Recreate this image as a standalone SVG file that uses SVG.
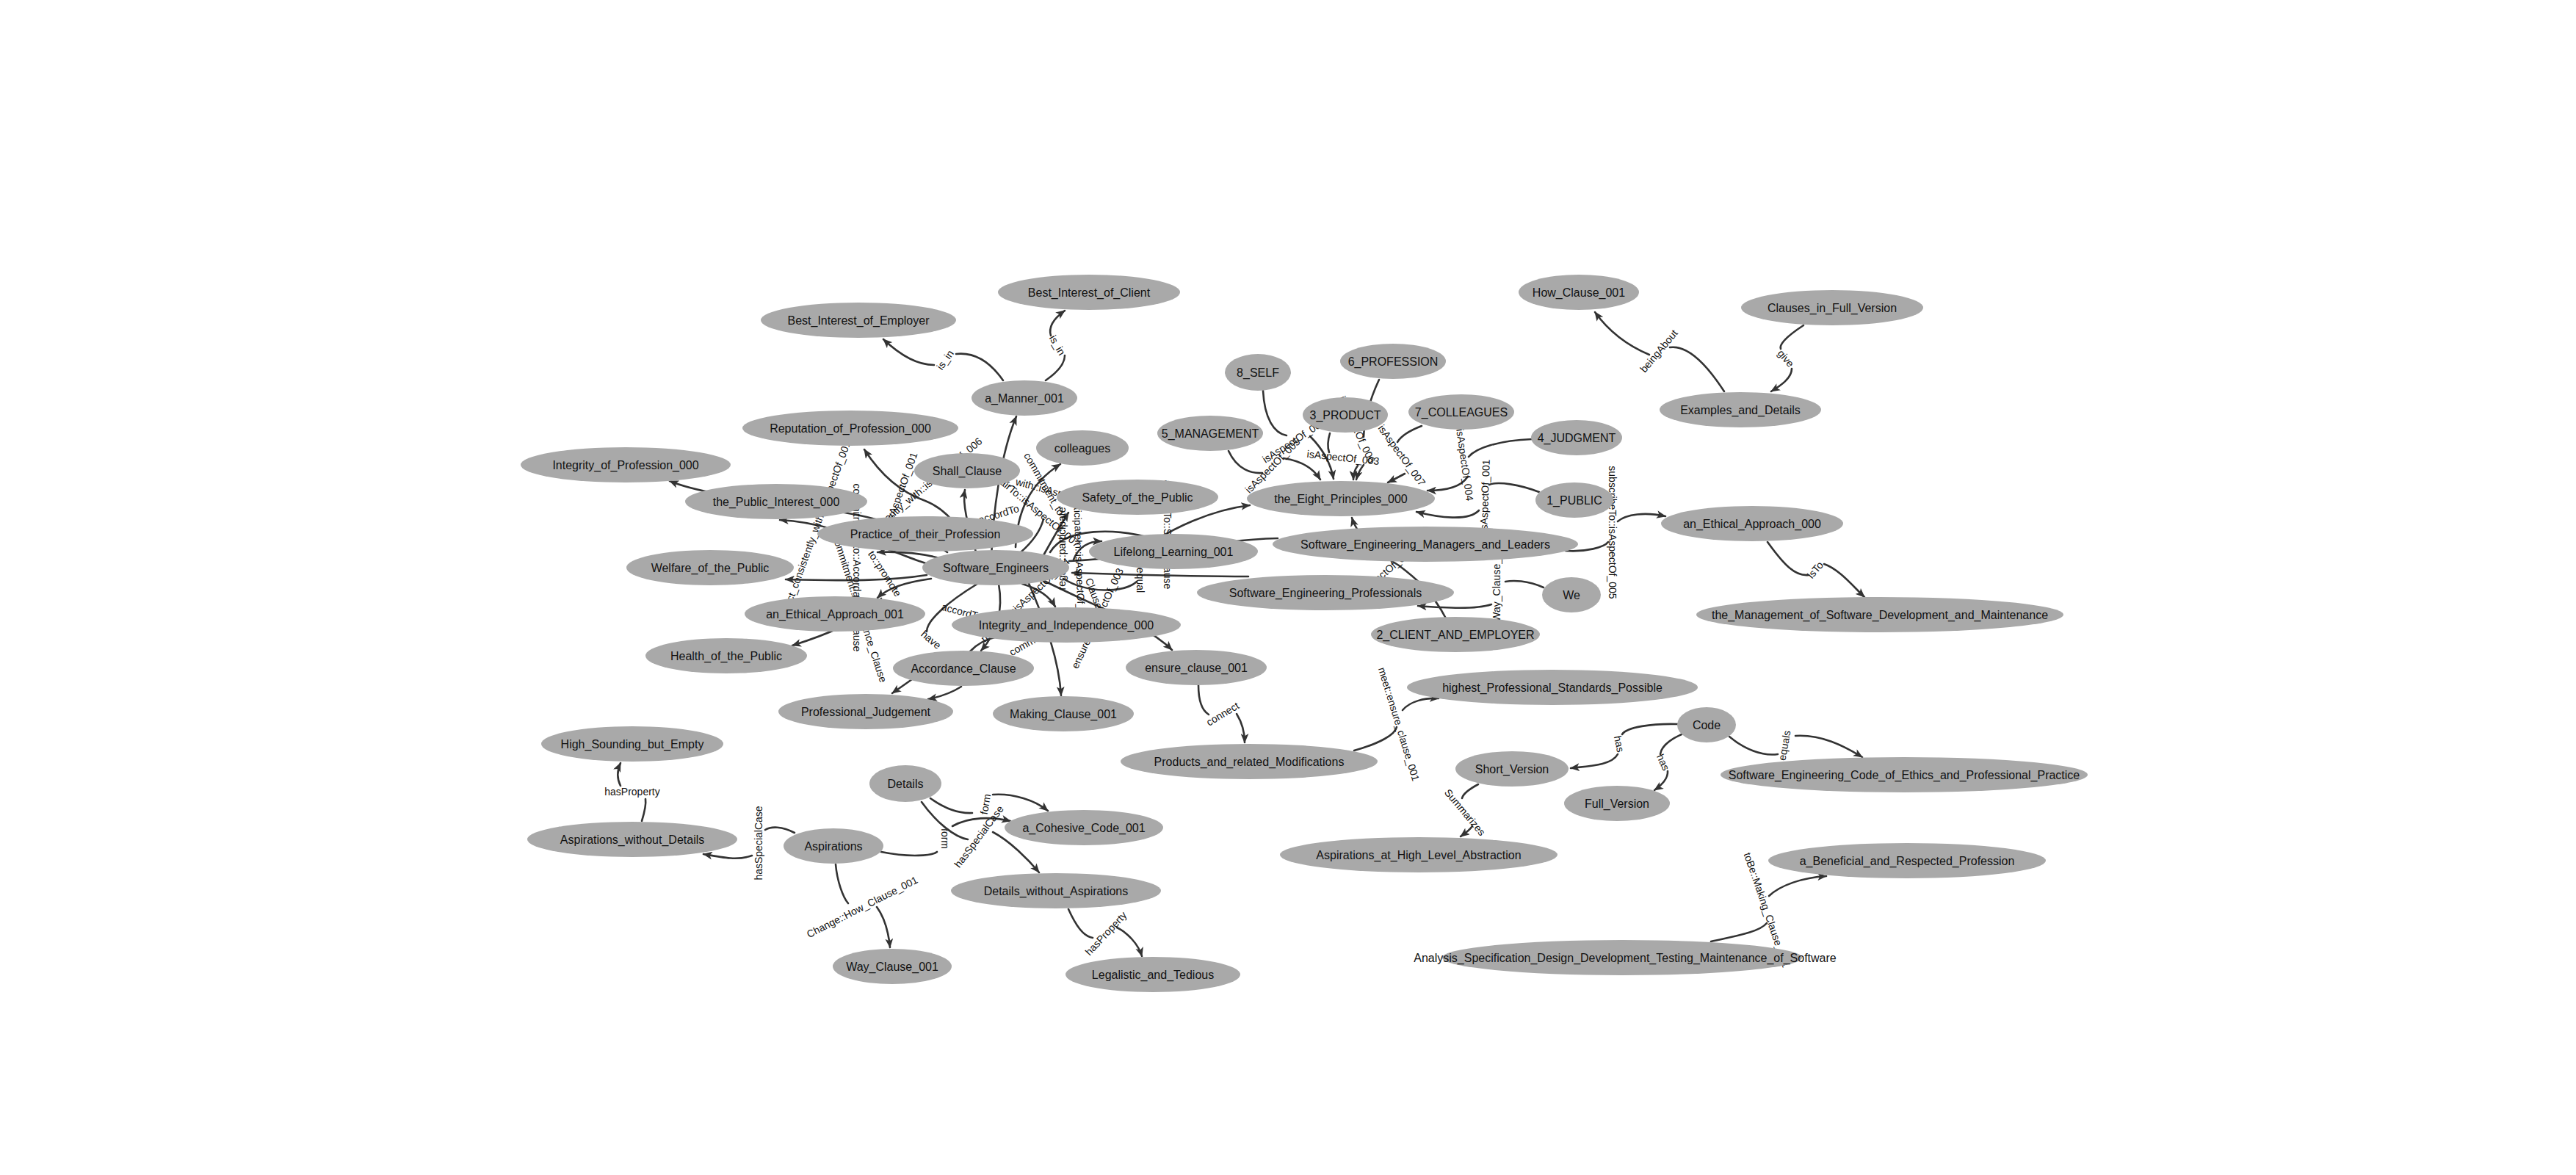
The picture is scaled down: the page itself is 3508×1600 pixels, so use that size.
<svg xmlns="http://www.w3.org/2000/svg" width="3508" height="1600" viewBox="0 0 3508 1600">
<style>
.node ellipse{fill:#a9a9a9;stroke:none}
.node text{font-family:"Liberation Sans",Arial,sans-serif;font-size:16px;fill:#111;text-anchor:middle;dominant-baseline:central}
.e{fill:none;stroke:#333;stroke-width:2.6;stroke-linecap:round}
.a{marker-end:url(#arr)}
.l{font-family:"Liberation Sans",Arial,sans-serif;font-size:14px;fill:#111;text-anchor:middle;dominant-baseline:central}
</style>
<defs>
<marker id="arr" viewBox="0 0 12 10" refX="11" refY="5" markerWidth="13" markerHeight="11" markerUnits="userSpaceOnUse" orient="auto"><path d="M0,0 L12,5 L0,10 L3,5 z" fill="#333"/></marker>
</defs>
<rect width="3508" height="1600" fill="#fff"/>
<g id="connectors">
<!-- top left -->
<path class="e" d="M1366,518 Q1338,478 1302,482"/>
<path class="e a" d="M1272,497 Q1240,497 1203,462"/>
<text class="l" transform="rotate(-55 1287 490)" x="1287" y="490">is_in</text>
<path class="e" d="M1424,518 Q1450,500 1450,484"/>
<path class="e a" d="M1431,457 Q1426,440 1450,423"/>
<text class="l" transform="rotate(60 1440 470)" x="1440" y="470">is_in</text>
<path class="e a" d="M1350,760 C1352,700 1362,620 1384,567"/>
<path class="e a" d="M1320,745 C1300,705 1280,690 1260,682 C1220,668 1195,640 1177,612"/>
<text class="l" transform="rotate(-40 1254 667)" x="1254" y="667">consistently_with::isAspectOf_006</text>
<text class="l" transform="rotate(-70 1228 663)" x="1228" y="663">isAspectOf_001</text>
<path class="e a" d="M1290,775 C1220,760 1150,712 1062,708"/>
<text class="l" transform="rotate(-70 1113 713)" x="1113" y="713">act_consistently_with::isAspectOf_001</text>
<path class="e a" d="M1290,752 C1230,712 1180,703 1150,698 C1050,682 960,675 912,655"/>
<path class="e a" d="M1280,760 Q1240,750 1195,752"/>
<path class="e a" d="M1262,783 C1200,793 1130,790 1070,789"/>
<path class="e a" d="M1268,788 Q1215,795 1195,814"/>
<text class="l" transform="rotate(57 1205 781)" x="1205" y="781">to::promote</text>
<path class="e a" d="M1200,815 C1170,848 1120,866 1079,879"/>
<text class="l" transform="rotate(90 1167 773)" x="1167" y="773">commitment_to::Accordance_Clause</text>
<text class="l" transform="rotate(72 1171 829)" x="1171" y="829">commitment::Accordance_Clause</text>
<path class="e a" d="M1242,925 L1215,944"/>
<path class="e a" d="M1309,935 Q1290,947 1264,952"/>
<path class="e" d="M1331,795 C1290,820 1262,845 1262,860"/>
<text class="l" transform="rotate(40 1268 871)" x="1268" y="871">have</text>
<path class="e a" d="M1360,795 C1368,840 1352,868 1336,886"/>
<path class="e" d="M1321,887 Q1335,872 1358,867"/>
<path class="e a" d="M1392,795 Q1425,805 1437,826"/>
<path class="e a" d="M1400,792 C1425,850 1442,900 1445,947"/>
<text class="l" transform="rotate(-30 1395 878)" x="1395" y="878">commit</text>
<path class="e a" d="M1420,790 C1500,830 1560,850 1596,885"/>
<text class="l" transform="rotate(-65 1472 890)" x="1472" y="890">ensure</text>
<text class="l" transform="rotate(15 1310 833)" x="1310" y="833">accordTo</text>
<text class="l" transform="rotate(-43 1396 817)" x="1396" y="817">maintain::isAspectOf_004</text>
<path class="e a" d="M1330,755 C1320,720 1310,690 1314,667"/>
<text class="l" transform="rotate(-17 1360 700)" x="1360" y="700">accordTo</text>
<path class="e a" d="M1383,745 C1385,700 1400,660 1444,632"/>
<path class="e" d="M1390,752 Q1415,730 1421,707"/>
<path class="e a" d="M1420,758 Q1440,722 1455,698"/>
<path class="e a" d="M1462,762 Q1472,737 1500,737"/>
<path class="e a" d="M1430,752 C1450,718 1520,718 1575,735 C1595,722 1645,695 1702,688"/>
<path class="e a" d="M1700,785 C1620,785 1520,782 1460,780"/>
<path class="e" d="M1456,764 C1550,760 1650,735 1740,733"/>
<path class="e" d="M1448,788 C1480,808 1530,808 1548,792"/>
<text class="l" transform="rotate(40 1415 697)" x="1415" y="697">fairTo::isAspectOf_007</text>
<text class="l" transform="rotate(15 1412 663)" x="1412" y="663">supportive_with::isAspectOf_007</text>
<text class="l" transform="rotate(60 1422 659)" x="1422" y="659">commitment_to</text>
<text class="l" transform="rotate(-90 1446 747)" x="1446" y="747">regard::participate</text>
<text class="l" transform="rotate(88 1470 762)" x="1470" y="762">participateIn::isAspectOf_008</text>
<text class="l" transform="rotate(70 1490 808)" x="1490" y="808">Clause</text>
<text class="l" transform="rotate(-65 1505 819)" x="1505" y="819">isAspectOf_003</text>
<text class="l" transform="rotate(90 1553 790)" x="1553" y="790">equal</text>
<text class="l" transform="rotate(90 1590 728)" x="1590" y="728">adhereTo::Shall_Clause</text>
<!-- eight principles -->
<path class="e" d="M1720,532 C1722,570 1735,590 1752,593"/>
<path class="e a" d="M1784,594 C1800,610 1812,630 1816,652"/>
<text class="l" transform="rotate(-33 1762 600)" x="1762" y="600">isAspectOf_008</text>
<path class="e" d="M1673,614 C1685,640 1705,645 1719,644"/>
<path class="e a" d="M1748,624 C1775,628 1790,640 1798,653"/>
<text class="l" transform="rotate(-45 1733 634)" x="1733" y="634">isAspectOf_005</text>
<path class="e" d="M1811,590 C1808,600 1808,610 1810,616"/>
<path class="e a" d="M1849,634 Q1843,642 1843,653"/>
<text class="l" transform="rotate(6 1829 623)" x="1829" y="623">isAspectOf_003</text>
<path class="e" d="M1878,517 C1865,545 1858,570 1857,595"/>
<path class="e a" d="M1857,633 Q1850,642 1847,653"/>
<text class="l" transform="rotate(65 1848 585)" x="1848" y="585">isAspectOf_006</text>
<path class="e" d="M1936,580 Q1910,590 1903,602"/>
<path class="e a" d="M1913,645 Q1900,652 1890,657"/>
<text class="l" transform="rotate(54 1909 620)" x="1909" y="620">isAspectOf_007</text>
<path class="e" d="M2086,598 C2040,600 2010,610 2000,622"/>
<path class="e a" d="M1998,650 C1990,662 1970,668 1944,668"/>
<text class="l" transform="rotate(82 1995 633)" x="1995" y="633">isAspectOf_004</text>
<path class="e" d="M2096,670 C2070,660 2040,655 2028,660"/>
<path class="e a" d="M2014,695 C2000,710 1960,705 1929,697"/>
<text class="l" transform="rotate(-88 2022 675)" x="2022" y="675">isAspectOf_001</text>
<path class="e a" d="M1969,842 C1950,805 1925,785 1905,770 C1880,755 1850,735 1841,705"/>
<text class="l" transform="rotate(-40 1885 780)" x="1885" y="780">isAspectOf_002</text>
<path class="e" d="M2102,800 C2080,790 2060,790 2050,792"/>
<path class="e a" d="M2031,823 C2010,830 1970,828 1931,825"/>
<text class="l" transform="rotate(-90 2038 801)" x="2038" y="801">in::Way_Clause_001</text>
<path class="e" d="M2132,750 C2160,752 2185,745 2190,738"/>
<path class="e a" d="M2203,710 C2215,700 2240,697 2268,703"/>
<text class="l" transform="rotate(90 2196 725)" x="2196" y="725">subscribeTo::isAspectOf_005</text>
<!-- right top -->
<path class="e" d="M2348,533 C2320,490 2295,470 2274,473"/>
<path class="e a" d="M2246,483 C2215,470 2190,450 2172,425"/>
<text class="l" transform="rotate(-50 2259 478)" x="2259" y="478">beingAbout</text>
<path class="e" d="M2456,443 C2430,460 2423,470 2425,475"/>
<path class="e a" d="M2440,502 C2440,515 2425,525 2412,533"/>
<text class="l" transform="rotate(50 2432 488)" x="2432" y="488">give</text>
<path class="e" d="M2407,738 C2430,770 2445,785 2463,783"/>
<path class="e a" d="M2484,768 C2505,775 2525,800 2539,813"/>
<text class="l" transform="rotate(-50 2472 776)" x="2472" y="776">isTo</text>
<!-- bottom right -->
<path class="e" d="M1632,933 C1632,955 1638,968 1646,973"/>
<path class="e a" d="M1684,972 C1692,985 1695,1000 1695,1011"/>
<text class="l" transform="rotate(-31 1665 972)" x="1665" y="972">connect</text>
<path class="e" d="M1844,1022 C1880,1012 1900,1000 1902,990"/>
<path class="e a" d="M1910,967 C1920,955 1940,950 1959,951"/>
<text class="l" transform="rotate(73 1905 986)" x="1905" y="986">meet::ensure_clause_001</text>
<path class="e" d="M2285,986 C2250,985 2215,990 2209,1000"/>
<path class="e a" d="M2203,1027 C2195,1042 2165,1043 2139,1046"/>
<text class="l" transform="rotate(78 2205 1013)" x="2205" y="1013">has</text>
<path class="e" d="M2290,1000 C2272,1008 2262,1018 2261,1027"/>
<path class="e a" d="M2271,1050 C2272,1060 2262,1070 2253,1076"/>
<text class="l" transform="rotate(65 2265 1038)" x="2265" y="1038">has</text>
<path class="e" d="M2355,1003 C2375,1020 2400,1030 2421,1027"/>
<path class="e a" d="M2445,1002 C2480,1000 2510,1015 2536,1031"/>
<text class="l" transform="rotate(-80 2430 1015)" x="2430" y="1015">equals</text>
<path class="e" d="M2013,1068 C2000,1075 1992,1082 1991,1087"/>
<path class="e a" d="M2005,1125 C2000,1132 1993,1136 1989,1139"/>
<text class="l" transform="rotate(50 1995 1106)" x="1995" y="1106">Summarizes</text>
<path class="e" d="M2330,1282 C2360,1275 2395,1270 2406,1257"/>
<path class="e a" d="M2409,1220 C2425,1205 2455,1195 2487,1193"/>
<text class="l" transform="rotate(71 2406 1239)" x="2406" y="1239">toBe::Making_Clause_001</text>
<!-- bottom left -->
<path class="e" d="M874,1118 C878,1105 880,1095 879,1088"/>
<path class="e a" d="M845,1070 C840,1060 840,1050 845,1039"/>
<text class="l" x="861" y="1078">hasProperty</text>
<path class="e" d="M1082,1134 C1065,1125 1050,1125 1042,1130"/>
<path class="e a" d="M1024,1165 C1005,1172 985,1168 958,1163"/>
<text class="l" transform="rotate(-90 1033 1148)" x="1033" y="1148">hasSpecialCase</text>
<path class="e" d="M1138,1177 C1140,1200 1148,1222 1155,1230"/>
<path class="e a" d="M1194,1235 C1205,1250 1210,1270 1212,1290"/>
<text class="l" transform="rotate(-27 1174 1235)" x="1174" y="1235">Change::How_Clause_001</text>
<path class="e" d="M1267,1087 C1285,1100 1305,1108 1324,1107"/>
<path class="e a" d="M1352,1082 C1380,1080 1410,1090 1427,1104"/>
<text class="l" transform="rotate(-80 1342 1095)" x="1342" y="1095">form</text>
<path class="e" d="M1200,1160 C1240,1168 1270,1165 1276,1160"/>
<path class="e a" d="M1297,1125 C1320,1112 1350,1112 1376,1118"/>
<text class="l" transform="rotate(90 1287 1142)" x="1287" y="1142">form</text>
<path class="e" d="M1255,1092 C1275,1120 1300,1140 1318,1143"/>
<path class="e a" d="M1352,1133 C1375,1145 1400,1170 1415,1188"/>
<text class="l" transform="rotate(-53 1333 1139)" x="1333" y="1139">hasSpecialCase</text>
<path class="e" d="M1455,1238 C1465,1260 1475,1275 1488,1277"/>
<path class="e a" d="M1521,1263 C1535,1270 1550,1285 1555,1302"/>
<text class="l" transform="rotate(-47 1506 1271)" x="1506" y="1271">hasProperty</text>
</g>
<g id="n-Best_Interest_of_Employer" class="node"><ellipse cx="1169" cy="436" rx="133" ry="24"/><text x="1169" y="436">Best_Interest_of_Employer</text></g>
<g id="n-Best_Interest_of_Client" class="node"><ellipse cx="1483" cy="398" rx="124" ry="24"/><text x="1483" y="398">Best_Interest_of_Client</text></g>
<g id="n-a_Manner_001" class="node"><ellipse cx="1395" cy="542" rx="72" ry="24"/><text x="1395" y="542">a_Manner_001</text></g>
<g id="n-Reputation_of_Profession_000" class="node"><ellipse cx="1158" cy="583" rx="147" ry="24"/><text x="1158" y="583">Reputation_of_Profession_000</text></g>
<g id="n-Integrity_of_Profession_000" class="node"><ellipse cx="852" cy="633" rx="143" ry="24"/><text x="852" y="633">Integrity_of_Profession_000</text></g>
<g id="n-Shall_Clause" class="node"><ellipse cx="1317" cy="641" rx="72" ry="24"/><text x="1317" y="641">Shall_Clause</text></g>
<g id="n-colleagues" class="node"><ellipse cx="1474" cy="610" rx="63" ry="24"/><text x="1474" y="610">colleagues</text></g>
<g id="n-the_Public_Interest_000" class="node"><ellipse cx="1057" cy="683" rx="124" ry="24"/><text x="1057" y="683">the_Public_Interest_000</text></g>
<g id="n-Safety_of_the_Public" class="node"><ellipse cx="1549" cy="677" rx="110" ry="24"/><text x="1549" y="677">Safety_of_the_Public</text></g>
<g id="n-Practice_of_their_Profession" class="node"><ellipse cx="1260" cy="727" rx="147" ry="24"/><text x="1260" y="727">Practice_of_their_Profession</text></g>
<g id="n-Lifelong_Learning_001" class="node"><ellipse cx="1598" cy="751" rx="115" ry="24"/><text x="1598" y="751">Lifelong_Learning_001</text></g>
<g id="n-Software_Engineers" class="node"><ellipse cx="1356" cy="773" rx="100" ry="24"/><text x="1356" y="773">Software_Engineers</text></g>
<g id="n-Welfare_of_the_Public" class="node"><ellipse cx="967" cy="773" rx="114" ry="24"/><text x="967" y="773">Welfare_of_the_Public</text></g>
<g id="n-an_Ethical_Approach_001" class="node"><ellipse cx="1137" cy="836" rx="123" ry="24"/><text x="1137" y="836">an_Ethical_Approach_001</text></g>
<g id="n-Integrity_and_Independence_000" class="node"><ellipse cx="1452" cy="851" rx="156" ry="24"/><text x="1452" y="851">Integrity_and_Independence_000</text></g>
<g id="n-Health_of_the_Public" class="node"><ellipse cx="989" cy="893" rx="110" ry="24"/><text x="989" y="893">Health_of_the_Public</text></g>
<g id="n-Accordance_Clause" class="node"><ellipse cx="1312" cy="910" rx="96" ry="24"/><text x="1312" y="910">Accordance_Clause</text></g>
<g id="n-Professional_Judgement" class="node"><ellipse cx="1179" cy="969" rx="119" ry="24"/><text x="1179" y="969">Professional_Judgement</text></g>
<g id="n-Making_Clause_001" class="node"><ellipse cx="1448" cy="972" rx="96" ry="24"/><text x="1448" y="972">Making_Clause_001</text></g>
<g id="n-ensure_clause_001" class="node"><ellipse cx="1629" cy="909" rx="96" ry="24"/><text x="1629" y="909">ensure_clause_001</text></g>
<g id="n-8_SELF" class="node"><ellipse cx="1713" cy="507" rx="45" ry="25"/><text x="1713" y="507">8_SELF</text></g>
<g id="n-6_PROFESSION" class="node"><ellipse cx="1897" cy="492" rx="72" ry="24"/><text x="1897" y="492">6_PROFESSION</text></g>
<g id="n-3_PRODUCT" class="node"><ellipse cx="1832" cy="565" rx="58" ry="24"/><text x="1832" y="565">3_PRODUCT</text></g>
<g id="n-7_COLLEAGUES" class="node"><ellipse cx="1990" cy="561" rx="72" ry="24"/><text x="1990" y="561">7_COLLEAGUES</text></g>
<g id="n-5_MANAGEMENT" class="node"><ellipse cx="1648" cy="590" rx="72" ry="24"/><text x="1648" y="590">5_MANAGEMENT</text></g>
<g id="n-4_JUDGMENT" class="node"><ellipse cx="2147" cy="596" rx="62" ry="24"/><text x="2147" y="596">4_JUDGMENT</text></g>
<g id="n-the_Eight_Principles_000" class="node"><ellipse cx="1826" cy="679" rx="128" ry="24"/><text x="1826" y="679">the_Eight_Principles_000</text></g>
<g id="n-1_PUBLIC" class="node"><ellipse cx="2144" cy="681" rx="53" ry="24"/><text x="2144" y="681">1_PUBLIC</text></g>
<g id="n-Software_Engineering_Managers_and_Leaders" class="node"><ellipse cx="1941" cy="741" rx="208" ry="24"/><text x="1941" y="741">Software_Engineering_Managers_and_Leaders</text></g>
<g id="n-Software_Engineering_Professionals" class="node"><ellipse cx="1805" cy="807" rx="175" ry="24"/><text x="1805" y="807">Software_Engineering_Professionals</text></g>
<g id="n-We" class="node"><ellipse cx="2140" cy="810" rx="40" ry="24"/><text x="2140" y="810">We</text></g>
<g id="n-2_CLIENT_AND_EMPLOYER" class="node"><ellipse cx="1982" cy="864" rx="115" ry="24"/><text x="1982" y="864">2_CLIENT_AND_EMPLOYER</text></g>
<g id="n-How_Clause_001" class="node"><ellipse cx="2150" cy="398" rx="82" ry="24"/><text x="2150" y="398">How_Clause_001</text></g>
<g id="n-Clauses_in_Full_Version" class="node"><ellipse cx="2495" cy="419" rx="124" ry="24"/><text x="2495" y="419">Clauses_in_Full_Version</text></g>
<g id="n-Examples_and_Details" class="node"><ellipse cx="2370" cy="558" rx="110" ry="24"/><text x="2370" y="558">Examples_and_Details</text></g>
<g id="n-an_Ethical_Approach_000" class="node"><ellipse cx="2386" cy="713" rx="124" ry="24"/><text x="2386" y="713">an_Ethical_Approach_000</text></g>
<g id="n-the_Management_of_Software_Development_and_Maintenance" class="node"><ellipse cx="2560" cy="837" rx="250" ry="24"/><text x="2560" y="837">the_Management_of_Software_Development_and_Maintenance</text></g>
<g id="n-High_Sounding_but_Empty" class="node"><ellipse cx="861" cy="1013" rx="124" ry="24"/><text x="861" y="1013">High_Sounding_but_Empty</text></g>
<g id="n-Details" class="node"><ellipse cx="1233" cy="1067" rx="49" ry="25"/><text x="1233" y="1067">Details</text></g>
<g id="n-Aspirations_without_Details" class="node"><ellipse cx="861" cy="1143" rx="143" ry="24"/><text x="861" y="1143">Aspirations_without_Details</text></g>
<g id="n-Aspirations" class="node"><ellipse cx="1135" cy="1152" rx="68" ry="24"/><text x="1135" y="1152">Aspirations</text></g>
<g id="n-a_Cohesive_Code_001" class="node"><ellipse cx="1476" cy="1127" rx="108" ry="24"/><text x="1476" y="1127">a_Cohesive_Code_001</text></g>
<g id="n-Details_without_Aspirations" class="node"><ellipse cx="1438" cy="1213" rx="143" ry="24"/><text x="1438" y="1213">Details_without_Aspirations</text></g>
<g id="n-Way_Clause_001" class="node"><ellipse cx="1215" cy="1316" rx="81" ry="24"/><text x="1215" y="1316">Way_Clause_001</text></g>
<g id="n-Legalistic_and_Tedious" class="node"><ellipse cx="1570" cy="1327" rx="119" ry="24"/><text x="1570" y="1327">Legalistic_and_Tedious</text></g>
<g id="n-highest_Professional_Standards_Possible" class="node"><ellipse cx="2114" cy="936" rx="198" ry="24"/><text x="2114" y="936">highest_Professional_Standards_Possible</text></g>
<g id="n-Code" class="node"><ellipse cx="2324" cy="987" rx="40" ry="24"/><text x="2324" y="987">Code</text></g>
<g id="n-Products_and_related_Modifications" class="node"><ellipse cx="1701" cy="1037" rx="175" ry="24"/><text x="1701" y="1037">Products_and_related_Modifications</text></g>
<g id="n-Short_Version" class="node"><ellipse cx="2059" cy="1047" rx="77" ry="24"/><text x="2059" y="1047">Short_Version</text></g>
<g id="n-Full_Version" class="node"><ellipse cx="2202" cy="1094" rx="72" ry="24"/><text x="2202" y="1094">Full_Version</text></g>
<g id="n-Aspirations_at_High_Level_Abstraction" class="node"><ellipse cx="1932" cy="1164" rx="189" ry="24"/><text x="1932" y="1164">Aspirations_at_High_Level_Abstraction</text></g>
<g id="n-Software_Engineering_Code_of_Ethics_and_Professional_Practice" class="node"><ellipse cx="2593" cy="1055" rx="250" ry="24"/><text x="2593" y="1055">Software_Engineering_Code_of_Ethics_and_Professional_Practice</text></g>
<g id="n-a_Beneficial_and_Respected_Profession" class="node"><ellipse cx="2597" cy="1172" rx="189" ry="24"/><text x="2597" y="1172">a_Beneficial_and_Respected_Profession</text></g>
<g id="n-Analysis_Specification_Design_Development_Testing_Maintenance_of_Software" class="node"><ellipse cx="2209" cy="1304" rx="245" ry="24"/><text x="2213" y="1304">Analysis_Specification_Design_Development_Testing_Maintenance_of_Software</text></g>
</svg>
